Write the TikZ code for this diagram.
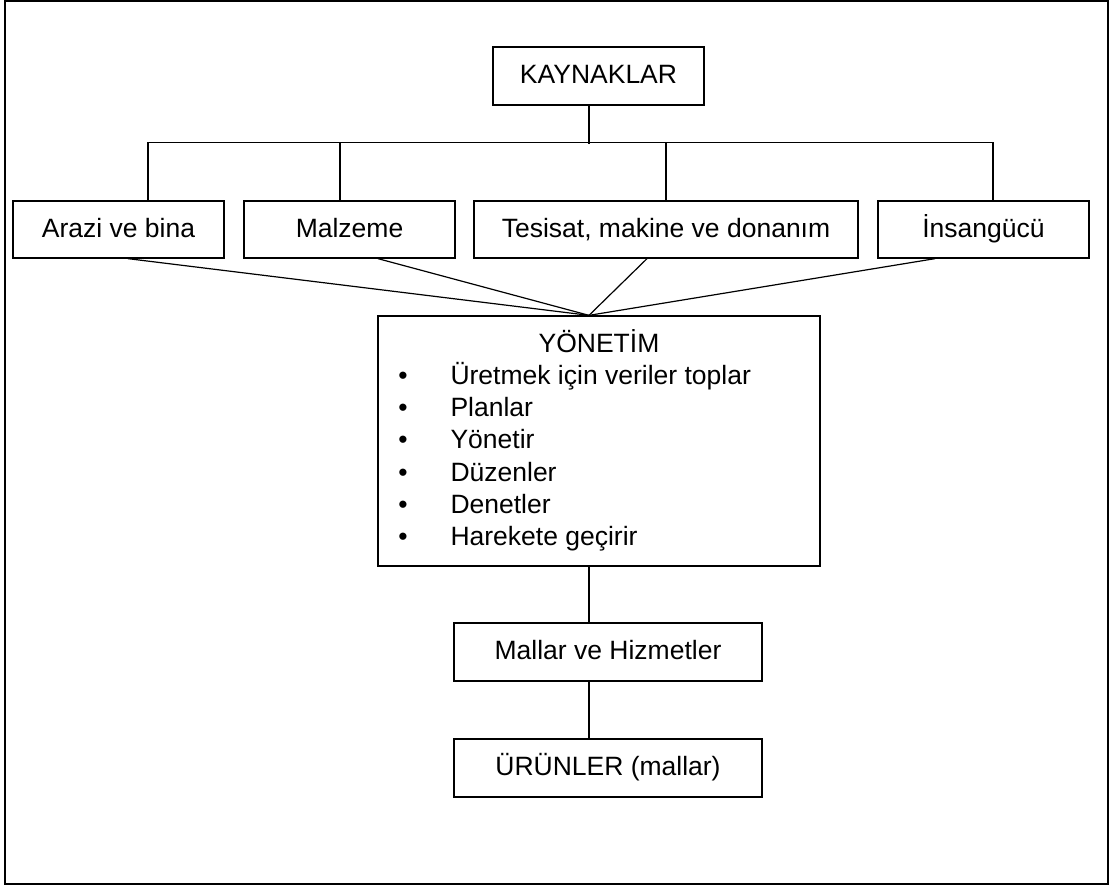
\documentclass[tikz,border=0pt]{standalone}
\usepackage{fontspec}
\setmainfont{Liberation Sans}
\usepackage{tikz}
\usetikzlibrary{positioning,calc}

\begin{document}
\begin{tikzpicture}[x=1pt,y=-1pt,
		font=\fontsize{26.5}{32.3}\selectfont,
		kutu/.style={draw, line width=1.3pt, inner sep=0pt, text height=19pt, text depth=4pt, minimum width=211pt, minimum height=57pt},
		hat/.style={line width=1.2pt}]
				\useasboundingbox (0,0) rectangle (1117,886);
				\draw[line width=2pt] (5,1) rectangle (1108,884);
				
				\node[kutu, minimum height=58pt] (kaynak) at (598.5,76) {KAYNAKLAR};
				
				\node[kutu] (arazi) at (118.5,229.5) {Arazi ve bina};
				\node[kutu] (malzeme) at (349.5,229.5) {Malzeme};
				\node[kutu, minimum width=384pt] (tesisat) at (666,229.5) {Tesisat, makine ve donanım};
				\node[kutu] (insan) at (983.5,229.5) {İnsangücü};
				
				\node[kutu, minimum width=442pt, minimum height=250pt] (yonetim) at (599,441) {};
				\node[anchor=base] (baslik) at (599,352) {YÖNETİM};
				\foreach \t [count=\i] in {Üretmek için veriler toplar, Planlar, Yönetir, Düzenler, Denetler, Harekete geçirir} {
					\node[anchor=base] (nokta\i) at (403,352+32.3*\i) {•};
					\node[anchor=base west] (madde\i) at (447,352+32.3*\i) {\t};
				}
				
				\node[kutu, minimum width=308pt, minimum height=58pt] (mallar) at (608,652) {Mallar ve Hizmetler};
				\node[kutu, minimum width=308pt, minimum height=58pt] (urunler) at (608,768) {ÜRÜNLER (mallar)};
				
				% kaynaklar -> dallar
				\draw[hat] ($(kaynak.south)+(-9.5,0)$) -- ++(0,38);
				\draw[hat] ($(arazi.north)+(29.5,0)$) -- ++(0,-58) -| ($(insan.north)+(9.5,0)$);
				\draw[hat] ($(malzeme.north)+(-9.5,0)$) -- ++(0,-58);
				\draw[hat] (tesisat.north) -- ++(0,-58);
				
				% dallar -> yonetim
				\coordinate (tepe) at ($(yonetim.north)+(-10,0)$);
				\foreach \n/\d in {arazi/9.5, malzeme/28.5, tesisat/-19, insan/-48.5}
					\draw[hat] ($(\n.south)+(\d,0)$) -- (tepe);
				
				\draw[hat] (tepe |- yonetim.south) -- (tepe |- mallar.north);
				\draw[hat] (tepe |- mallar.south) -- (tepe |- urunler.north);
			\end{tikzpicture}
\end{document}
